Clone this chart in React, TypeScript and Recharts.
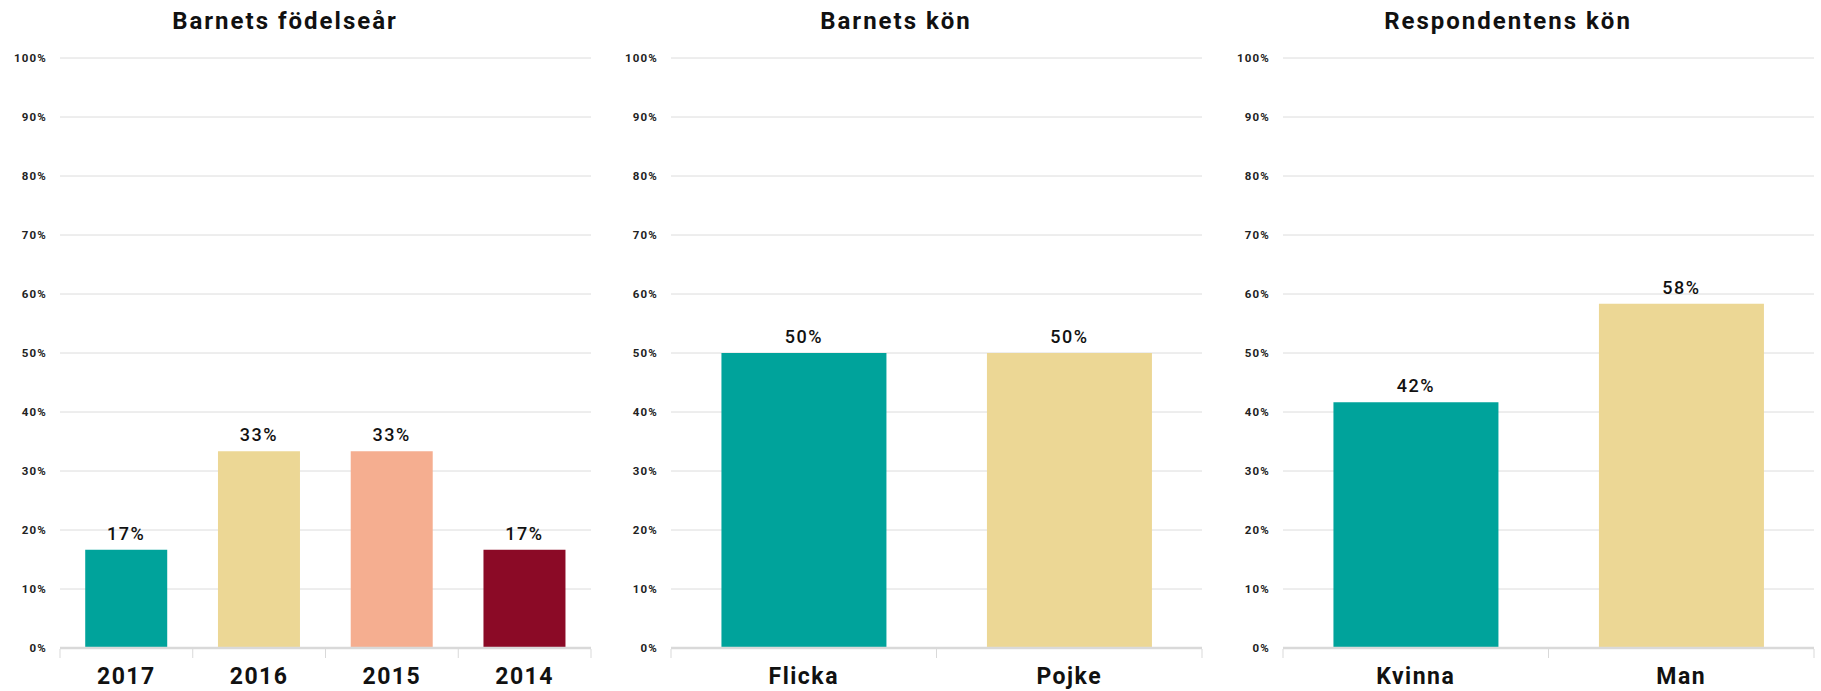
import React from "react"
import { BarChart, Bar, XAxis, YAxis, CartesianGrid, Cell, LabelList } from "recharts"

const yearCategories = ["2017", "2016", "2015", "2014"]
const yearValues = [16.67, 33.33, 33.33, 16.67]

const childSexCategories = ["Flicka", "Pojke"]
const childSexValues = [50, 50]

const respondentSexCategories = ["Kvinna", "Man"]
const respondentSexValues = [41.67, 58.33]

const percentTicks = [0, 10, 20, 30, 40, 50, 60, 70, 80, 90, 100]

const barColors = ["#00A39B", "#ECD795", "#F5AE90", "#8B0A26"]

const FONT = "Roboto, 'Liberation Sans', sans-serif"
const PANEL_W = 611
const PANEL_H = 691

// category labels plus the small separator ticks between categories
function CategoryTick(props: any) {
  const { x, y, payload, index, visibleTicksCount } = props
  const half = payload.offset ?? 0
  const isLast = index === visibleTicksCount - 1
  return (
    <g>
      <line x1={x - half} y1={y + 1} x2={x - half} y2={y + 10} stroke="#d9d9d9" strokeWidth={1} />
      {isLast && <line x1={x + half} y1={y + 1} x2={x + half} y2={y + 10} stroke="#d9d9d9" strokeWidth={1} />}
      <text
        x={x}
        y={y + 36}
        textAnchor="middle"
        fontFamily={FONT}
        fontSize={23}
        fontWeight={700}
        letterSpacing={1.5}
        fill="#111"
      >
        {payload.value}
      </text>
    </g>
  )
}

function Panel({ title, categories, values, left }: { title: string; categories: string[]; values: number[]; left: number }) {
  const data = categories.map((name, i) => ({ name, value: values[i] }))
  return (
    <div style={{ position: "absolute", left, top: 0, width: PANEL_W, height: PANEL_H }}>
      <div
        style={{
          position: "absolute",
          left: 85,
          width: 400,
          top: 5,
          textAlign: "center",
          fontFamily: FONT,
          fontSize: 24,
          fontWeight: 700,
          letterSpacing: 2,
          color: "#111",
          lineHeight: "32px",
        }}
      >
        {title}
      </div>
      <BarChart
        width={PANEL_W}
        height={PANEL_H}
        data={data}
        margin={{ top: 58, right: 20, bottom: 0, left: 0 }}
        barCategoryGap="19%"
      >
        <CartesianGrid vertical={false} stroke="#dcdcdc" strokeWidth={1} />
        <XAxis
          dataKey="name"
          height={43}
          tickLine={false}
          tickSize={0}
          tickMargin={0}
          axisLine={{ stroke: "#d9d9d9", strokeWidth: 2.5 }}
          tick={<CategoryTick />}
          interval={0}
        />
        <YAxis
          width={60}
          domain={[0, 100]}
          ticks={percentTicks}
          tickFormatter={(v: number) => `${v}%`}
          axisLine={false}
          tickLine={false}
          tickSize={0}
          tickMargin={13}
          tick={{ fontFamily: FONT, fontSize: 11.5, fontWeight: 700, fill: "#222", letterSpacing: 1.2 }}
        />
        <Bar dataKey="value" isAnimationActive={false}>
          {data.map((_, i) => (
            <Cell key={i} fill={barColors[i]} />
          ))}
          <LabelList
            dataKey="value"
            position="top"
            offset={10}
            formatter={(v: any) => `${Math.round(Number(v))}%`}
            style={{ fontFamily: FONT, fontSize: 18, fontWeight: 500, letterSpacing: 1.5, fill: "#111" }}
          />
        </Bar>
      </BarChart>
    </div>
  )
}

export default function App() {
  return (
    <div style={{ position: "absolute", left: 0, top: 0, width: 1821, height: 691, background: "#fff" }}>
      <Panel title="Barnets födelseår" categories={yearCategories} values={yearValues} left={0} />
      <Panel title="Barnets kön" categories={childSexCategories} values={childSexValues} left={611} />
      <Panel title="Respondentens kön" categories={respondentSexCategories} values={respondentSexValues} left={1223} />
    </div>
  )
}
